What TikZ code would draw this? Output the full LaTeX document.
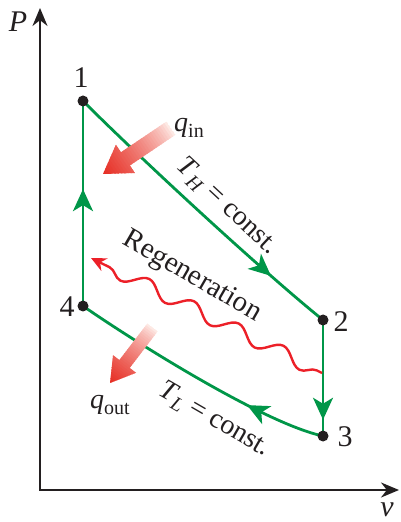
\documentclass[tikz,border=0pt]{standalone}
\usepackage{fontspec}
\setmainfont{Liberation Serif}
\usetikzlibrary{arrows.meta,decorations.markings,decorations.pathmorphing}
\pgfdeclarelayer{back}
\pgfsetlayers{back,main}
\definecolor{cyc}{RGB}{0,150,72}
\definecolor{regred}{RGB}{236,32,40}
\definecolor{qhead}{RGB}{230,45,35}
\definecolor{qtail}{RGB}{255,244,240}
\definecolor{ink}{RGB}{35,31,32}
\newcommand{\subtxt}[1]{\raisebox{-0.45ex}{\fontsize{10}{10}\selectfont #1}}
\newcommand{\qarrow}[6]{%
  \begin{scope}[shift={#1},rotate=#2]
    \clip (0,0) -- (-#4,#5/2) -- (-#4,#6/2) -- (-#3,#6/2) -- (-#3,-#6/2) -- (-#4,-#6/2) -- (-#4,-#5/2) -- cycle;
    \foreach \i in {0,...,29}{
      \pgfmathsetmacro{\pc}{100*((\i+0.5)/30)^0.7}
      \fill[qhead!\pc!qtail] ({-#3+\i*#3/30},-#5) rectangle ({-#3+(\i+1.4)*#3/30},#5);
    }
  \end{scope}}
\begin{document}
\begin{tikzpicture}[x=0.5pt,y=-0.5pt,
  font=\fontsize{14}{16}\selectfont,
  axisline/.style={line width=1.1pt,draw=ink,{Stealth[length=9pt,width=7.5pt]}-{Stealth[length=9pt,width=7.5pt]}},
  statept/.style={circle,fill=ink,inner sep=0pt,minimum size=5.5pt},
  proc/.style={line width=1.4pt,draw=cyc},
  midarrow/.style={postaction={decorate},decoration={markings,mark=at position #1 with {\arrow{Stealth[length=11pt,width=10pt,inset=3pt]}}}},
  lbl/.style={inner sep=0pt,text=ink},
  numlbl/.style={lbl,font=\fontsize{15}{17}\selectfont},
  regen/.style={draw=regred,line width=1.2pt,decorate,decoration={snake,segment length=25pt,amplitude=3.6pt,pre length=3pt,post length=6pt},-{Stealth[length=7.5pt,width=7pt]}},
]
\useasboundingbox (0,0) rectangle (400,522);
% axes
\coordinate (O) at (40,490);
\coordinate (Ptip) at (40,8);
\coordinate (vtip) at (399,490);
\draw[axisline] (Ptip) -- (O) -- (vtip);
\node[numlbl] (Plab) at (18,22) {\textit{P}};
\node[numlbl] (vlab) at (387,510) {\textit{v}};
% states
\node[statept] (n1) at (83,101) {};
\node[statept] (n2) at (323,320) {};
\node[statept] (n3) at (323,436) {};
\node[statept] (n4) at (83,306) {};
\node[numlbl] (l1) at (81,78) {1};
\node[numlbl] (l2) at (341,322) {2};
\node[numlbl] (l3) at (345,437) {3};
\node[numlbl] (l4) at (67,307) {4};
% processes
\begin{pgfonlayer}{back}
\draw[proc,midarrow=0.79] (n1.center) .. controls (140,158) and (261,270) .. (n2.center);
\draw[proc,midarrow=0.86] (n2.center) -- (n3.center);
\draw[proc,midarrow=0.30] (n3.center) .. controls (264,423.5) and (132,340) .. (n4.center);
\draw[proc,midarrow=0.57] (n4.center) -- (n1.center);
\end{pgfonlayer}
% regeneration
\coordinate (rs) at (322,373);
\coordinate (re) at (91,258);
\draw[regen] (rs) -- (re);
% heat arrows
\qarrow{(103,174)}{214}{82}{27}{34}{16}
\qarrow{(110,383)}{232.6}{70}{24}{29}{13}
% labels
\node[lbl] (qin) at (189,128) {\textit{q}\subtxt{in}};
\node[lbl] (qout) at (110,405) {\textit{q}\subtxt{out}};
\node[lbl,rotate=-43] (TH) at (227,207) {\textit{T}\subtxt{\textit{H}} = const.};
\node[lbl,rotate=-30] (TL) at (214,420) {\textit{T}\subtxt{\textit{L}} = const.};
\node[lbl,rotate=-30,font=\fontsize{14.5}{16}\selectfont] (rg) at (192,277) {Regeneration};
\end{tikzpicture}
\end{document}
